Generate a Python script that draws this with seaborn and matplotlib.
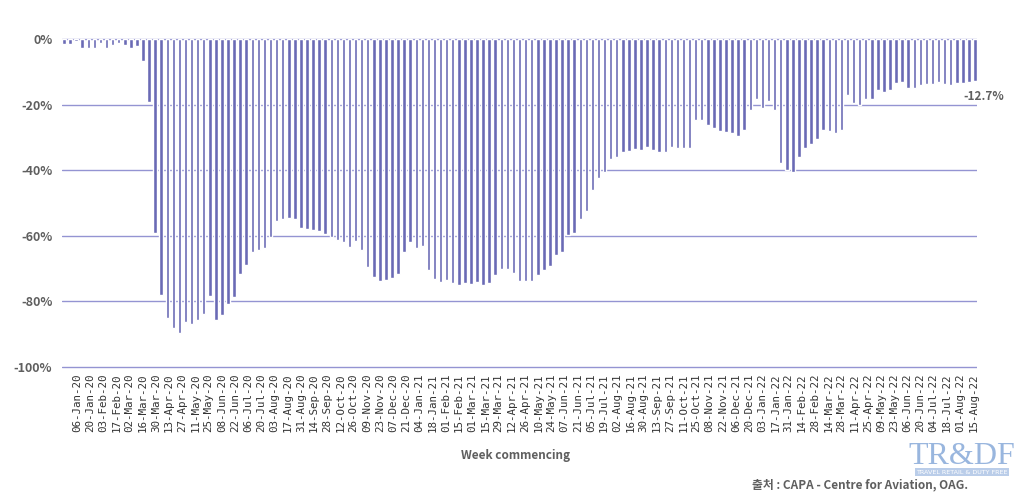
import matplotlib
matplotlib.use("Agg")
import matplotlib.pyplot as plt
import numpy as np
import pandas as pd
import seaborn as sns

# 2주 간격 x축 라벨
WEEK_LABELS = [
    "06-Jan-20", "20-Jan-20", "03-Feb-20", "17-Feb-20", "02-Mar-20", "16-Mar-20",
    "30-Mar-20", "13-Apr-20", "27-Apr-20", "11-May-20", "25-May-20", "08-Jun-20",
    "22-Jun-20", "06-Jul-20", "20-Jul-20", "03-Aug-20", "17-Aug-20", "31-Aug-20",
    "14-Sep-20", "28-Sep-20", "12-Oct-20", "26-Oct-20", "09-Nov-20", "23-Nov-20",
    "07-Dec-20", "21-Dec-20", "04-Jan-21", "18-Jan-21", "01-Feb-21", "15-Feb-21",
    "01-Mar-21", "15-Mar-21", "29-Mar-21", "12-Apr-21", "26-Apr-21", "10-May-21",
    "24-May-21", "07-Jun-21", "21-Jun-21", "05-Jul-21", "19-Jul-21", "02-Aug-21",
    "16-Aug-21", "30-Aug-21", "13-Sep-21", "27-Sep-21", "11-Oct-21", "25-Oct-21",
    "08-Nov-21", "22-Nov-21", "06-Dec-21", "20-Dec-21", "03-Jan-22", "17-Jan-22",
    "31-Jan-22", "14-Feb-22", "28-Feb-22", "14-Mar-22", "28-Mar-22", "11-Apr-22",
    "25-Apr-22", "09-May-22", "23-May-22", "06-Jun-22", "20-Jun-22", "04-Jul-22",
    "18-Jul-22", "01-Aug-22", "15-Aug-22",
]

# 주간 좌석 공급 변화율 (%), 그림에서 읽은 값
CHANGE_PCT = [
    -1.4, -1.4, -0.7, -2.6, -2.6, -2.6, -1.1, -2.6, -1.7, -1.3,
    -1.9, -2.6, -2.1, -6.6, -19.2, -59.0, -78.0, -85.1, -88.0, -89.6,
    -86.2, -86.8, -85.8, -83.7, -78.5, -85.6, -84.0, -80.9, -78.7, -71.5,
    -68.8, -65.0, -64.3, -63.6, -60.3, -55.4, -55.0, -54.6, -54.9, -57.7,
    -58.0, -58.1, -58.6, -59.3, -60.3, -61.2, -62.0, -63.3, -61.5, -64.3,
    -69.4, -72.7, -73.8, -73.4, -73.0, -71.7, -65.0, -61.8, -63.7, -63.0,
    -70.4, -73.1, -74.0, -73.4, -74.3, -75.0, -74.5, -74.8, -74.1, -75.1,
    -74.5, -72.0, -70.1, -70.1, -71.3, -73.7, -73.7, -73.7, -71.8, -70.5,
    -69.3, -65.8, -64.8, -59.7, -59.1, -54.9, -52.4, -46.1, -42.3, -40.5,
    -36.6, -36.0, -34.6, -34.0, -33.4, -33.8, -32.9, -33.9, -34.3, -34.3,
    -32.9, -33.1, -33.1, -33.1, -24.7, -24.8, -26.3, -27.2, -28.1, -28.2,
    -28.6, -29.6, -27.6, -21.7, -18.4, -21.1, -18.9, -21.5, -37.9, -40.0,
    -40.4, -35.9, -33.2, -31.9, -30.4, -27.6, -28.1, -28.6, -27.6, -17.2,
    -19.4, -20.2, -18.2, -18.4, -15.6, -16.2, -15.6, -13.3, -13.1, -14.8,
    -14.8, -13.9, -13.8, -13.8, -13.1, -13.8, -14.0, -13.5, -13.3, -13.1,
    -12.7,
]

Y_TICKS = [0, -20, -40, -60, -80, -100]

BAR_COLOR = "#6a6ab5"
GRID_COLOR = "#9494d2"
TEXT_GRAY = "#5f5f5f"

sns.set_theme(style="white")
plt.rcParams["font.family"] = ["Noto Sans CJK KR", "DejaVu Sans"]
plt.rcParams["axes.unicode_minus"] = False

df = pd.DataFrame({"bar": np.arange(len(CHANGE_PCT)), "change": CHANGE_PCT})

fig = plt.figure(figsize=(10.22, 5.03), dpi=100)
ax = fig.add_axes([0.0607, 0.2671, 0.8953, 0.6586])

sns.barplot(data=df, x="bar", y="change", color=BAR_COLOR, saturation=1,
            width=0.58, ax=ax, zorder=3)

ax.set_ylim(-100.5, 0.5)
ax.set_xlim(-0.33, len(CHANGE_PCT) - 1 + 0.33)
ax.set_yticks(Y_TICKS)
ax.set_yticklabels([f"{v}%" for v in Y_TICKS], fontsize=9, fontweight="bold",
                   color=TEXT_GRAY)
ax.yaxis.grid(True, color=GRID_COLOR, linewidth=1)
ax.xaxis.grid(False)
ax.set_axisbelow(True)

tick_pos = np.linspace(2.1, 149.7, len(WEEK_LABELS))
ax.set_xticks(tick_pos)
ax.set_xticklabels(WEEK_LABELS, rotation=90, fontsize=7.8,
                   family=["DejaVu Sans Mono"], color="#333333")
ax.tick_params(axis="x", length=0, pad=3.5)
ax.tick_params(axis="y", length=0, pad=7)
ax.set_xlabel("")
ax.set_ylabel("")
for spine in ax.spines.values():
    spine.set_visible(False)

# 마지막 주 값 표시
ax.annotate(f"{CHANGE_PCT[-1]}%", xy=(len(CHANGE_PCT) - 1, CHANGE_PCT[-1]),
            xytext=(-8.6, -11.5), textcoords="offset points",
            ha="left", va="center", fontsize=8.5, fontweight="bold",
            color=TEXT_GRAY)

fig.text(0.504, 1 - 455 / 503, "Week commencing", ha="center", va="center",
         fontsize=8.5, fontweight="bold", color=TEXT_GRAY)

fig.text(968 / 1022, 1 - 485 / 503, "출처 : CAPA - Centre for Aviation, OAG.",
         ha="right", va="center", fontsize=8.5, fontweight="bold",
         color=TEXT_GRAY)

# 워터마크 로고
fig.text(962 / 1022, 1 - 456 / 503, "TR&DF", ha="center", va="center",
         fontsize=23, family=["Liberation Serif", "DejaVu Serif"],
         color="#8eaedb", alpha=0.9)
fig.text(962 / 1022, 1 - 472 / 503, "TRAVEL RETAIL & DUTY FREE", ha="center",
         va="center", fontsize=4.6, color="white", family=["DejaVu Sans"],
         bbox=dict(facecolor="#a9c1e4", edgecolor="none", pad=1.2, alpha=0.8))

fig.savefig("out.png", dpi=100)
plt.close(fig)
